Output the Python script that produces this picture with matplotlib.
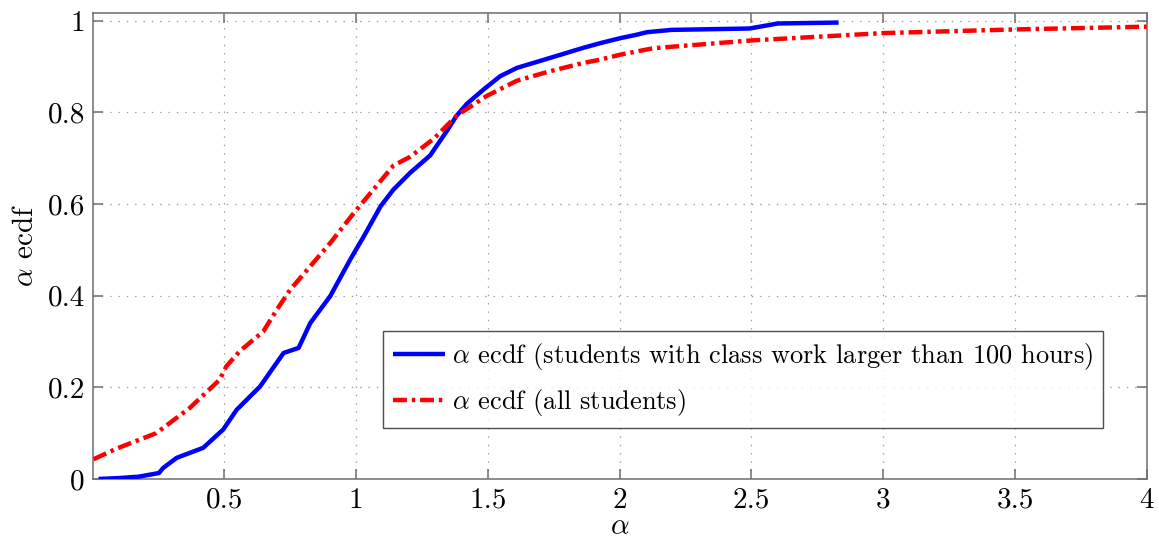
import matplotlib
matplotlib.use("Agg")
import matplotlib.pyplot as plt
from matplotlib.ticker import FixedLocator, FixedFormatter

plt.rcParams['font.family'] = ['cmr10', 'DejaVu Sans']
plt.rcParams['mathtext.fontset'] = 'cm'
plt.rcParams['axes.formatter.use_mathtext'] = True
plt.rcParams['lines.scale_dashes'] = False

# Blue: students with class work larger than 100 hours
blue_x = [0.023, 0.10, 0.175, 0.252, 0.268, 0.319, 0.36, 0.42, 0.496, 0.547,
          0.636, 0.725, 0.782, 0.826, 0.902, 0.978, 1.029, 1.093, 1.141, 1.205,
          1.281, 1.344, 1.382, 1.421, 1.484, 1.547, 1.61, 1.737, 1.863, 1.926,
          2.003, 2.061, 2.104, 2.196, 2.493, 2.601, 2.831]
blue_y = [0.0, 0.002, 0.005, 0.013, 0.024, 0.046, 0.055, 0.068, 0.108, 0.151,
          0.202, 0.275, 0.286, 0.34, 0.399, 0.479, 0.529, 0.595, 0.631, 0.668,
          0.706, 0.759, 0.793, 0.819, 0.85, 0.879, 0.897, 0.919, 0.941, 0.951,
          0.962, 0.969, 0.975, 0.98, 0.983, 0.994, 0.996]

# Red: all students
red_x = [0.004, 0.09, 0.242, 0.369, 0.483, 0.508, 0.559, 0.648, 0.699, 0.75,
         0.826, 0.902, 0.991, 1.065, 1.142, 1.205, 1.294, 1.382, 1.496, 1.61,
         1.737, 1.863, 1.926, 2.003, 2.128, 2.5, 3.0, 3.5, 4.0]
red_y = [0.043, 0.066, 0.1, 0.155, 0.217, 0.246, 0.279, 0.322, 0.369, 0.413,
         0.464, 0.515, 0.58, 0.631, 0.684, 0.703, 0.742, 0.793, 0.836, 0.869,
         0.89, 0.908, 0.915, 0.926, 0.94, 0.957, 0.973, 0.981, 0.987]

x_ticks = [0.5, 1, 1.5, 2, 2.5, 3, 3.5, 4]
x_tick_labels = ['0.5', '1', '1.5', '2', '2.5', '3', '3.5', '4']
y_ticks = [0, 0.2, 0.4, 0.6, 0.8, 1]
y_tick_labels = ['0', '0.2', '0.4', '0.6', '0.8', '1']

label_blue = r'$\alpha$ ecdf (students with class work larger than 100 hours)'
label_red = r'$\alpha$ ecdf (all students)'

fig = plt.figure(figsize=(11.59, 5.43), dpi=100)
ax = fig.add_axes([0.0805, 0.1179, 0.9894 - 0.0805, 0.9766 - 0.1179])

ax.plot(blue_x, blue_y, color='#0000ff', lw=3.2, solid_capstyle='butt',
        label=label_blue, zorder=3)
ax.plot(red_x, red_y, color='#ff0000', lw=3.2, dash_capstyle='butt',
        dashes=(10, 3.5, 2.5, 3.5), label=label_red, zorder=3)

ax.set_xlim(0.003, 4)
ax.set_ylim(0, 1.0175)

ax.xaxis.set_major_locator(FixedLocator(x_ticks))
ax.xaxis.set_major_formatter(FixedFormatter(x_tick_labels))
ax.yaxis.set_major_locator(FixedLocator(y_ticks))
ax.yaxis.set_major_formatter(FixedFormatter(y_tick_labels))

spine_col = '#6e6e6e'
for s in ax.spines.values():
    s.set_color(spine_col)
    s.set_linewidth(1.1)
ax.tick_params(direction='in', length=7, width=1.1, color=spine_col,
               labelsize=21, top=True, right=True, pad=6, labelcolor='black')
ax.grid(True, linestyle=(0, (1, 5)), color='#9a9a9a', lw=0.9)

ax.set_xlabel(r'$\alpha$', fontsize=21, labelpad=0)
ax.set_ylabel(r'$\alpha$ ecdf', fontsize=21, labelpad=6)

leg = ax.legend(loc='lower right', bbox_to_anchor=(0.9588, 0.1087),
                fontsize=19, frameon=True, fancybox=False, handlelength=1.95,
                handletextpad=0.25, borderpad=0.4, labelspacing=0.55,
                borderaxespad=0)
leg.get_frame().set_edgecolor('#222222')
leg.get_frame().set_linewidth(1.0)

fig.savefig('out.png', dpi=100)
